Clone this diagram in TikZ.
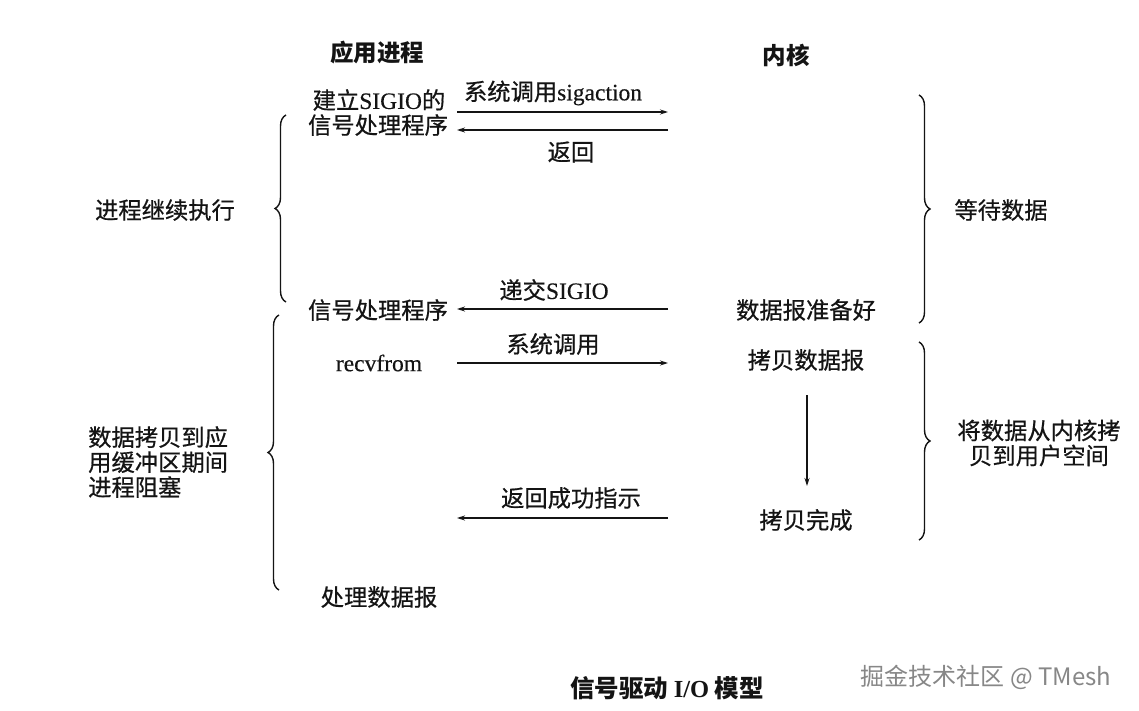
\documentclass[tikz,border=0pt]{standalone}
\usepackage{fontspec}
\setmainfont{Liberation Serif}
\newfontfamily\cjk[FakeBold=0.6]{Noto Sans CJK SC}
\newfontfamily\cjkw{Noto Sans CJK SC}
\newfontfamily\latf[FakeBold=0.4]{Liberation Serif}
\usetikzlibrary{arrows.meta,decorations.pathreplacing}
\definecolor{ink}{RGB}{20,20,20}
\definecolor{wmgray}{RGB}{135,135,135}
\begin{document}
\begin{tikzpicture}[x=1pt,y=-1pt,
  txt/.style={inner sep=0pt, text=ink, font=\fontsize{23.3}{25}\selectfont\cjk},
  ttl/.style={inner sep=0pt, text=ink, font=\fontsize{23.5}{26}\selectfont\cjkw\bfseries},
  msg/.style={draw=ink, line width=1.1pt, -{Stealth[length=8pt,width=5pt]}},
  brc/.style={draw=ink, line width=1.4pt, decorate, decoration={brace, amplitude=11pt, aspect=0.5}}]
\useasboundingbox (0,0) rectangle (1139,711);
\fill[white] (0,0) rectangle (1139,711);
\newcommand{\lt}[1]{{\latf\fontsize{23.5}{26}\selectfont #1}}

% headers
\node[ttl] (app) at (377,53) {应用进程};
\node[ttl] (kern) at (786,55) {内核};

% application side
\node[txt] (setup1) at (379,100) {建立\lt{SIGIO}的};
\node[txt] (setup2) at (378,125) {信号处理程序};
\node[txt] (handler) at (378,310) {信号处理程序};
\node[txt] (recv) at (379,363) {\lt{recvfrom}};
\node[txt] (proc) at (379,597) {处理数据报};

% kernel side
\node[txt] (ready) at (806,310) {数据报准备好};
\node[txt] (copy) at (806,360) {拷贝数据报};
\node[txt] (done) at (806,520) {拷贝完成};

% message labels
\node[txt] (l1) at (553,93) {系统调用\lt{sigaction}};
\node[txt] (l2) at (571,152) {返回};
\node[txt] (l3) at (554,290) {递交\lt{SIGIO}};
\node[txt] (l4) at (553,344) {系统调用};
\node[txt] (l5) at (571,498) {返回成功指示};

% arrow end points
\coordinate (a1s) at (457,112); \coordinate (a1e) at (668,112);
\coordinate (a2s) at (668,130); \coordinate (a2e) at (457,130);
\coordinate (a3s) at (668,309); \coordinate (a3e) at (457,309);
\coordinate (a4s) at (457,363); \coordinate (a4e) at (668,363);
\coordinate (a5s) at (668,518); \coordinate (a5e) at (457,518);
\coordinate (d1s) at (807,395); \coordinate (d1e) at (807,486);

\draw[msg] (a1s) -- (a1e);
\draw[msg] (a2s) -- (a2e);
\draw[msg] (a3s) -- (a3e);
\draw[msg] (a4s) -- (a4e);
\draw[msg] (a5s) -- (a5e);
\draw[msg] (d1s) -- (d1e);

% braces
\coordinate (lb1t) at (286,115); \coordinate (lb1b) at (286,302);
\coordinate (lb2t) at (279,315); \coordinate (lb2b) at (279,590);
\coordinate (rb1t) at (919,95);  \coordinate (rb1b) at (919,323);
\coordinate (rb2t) at (919,342); \coordinate (rb2b) at (919,540);
\draw[brc] (lb1b) -- (lb1t);
\draw[brc] (lb2b) -- (lb2t);
\draw[brc] (rb1t) -- (rb1b);
\draw[brc] (rb2t) -- (rb2b);

% brace labels
\node[txt] (cont) at (165,210) {进程继续执行};
\node[txt, align=left, anchor=west] (block) at (88,462) {数据拷贝到应\\用缓冲区期间\\进程阻塞};
\node[txt] (wait) at (1001,210) {等待数据};
\node[txt, align=center] (tocopy) at (1039,443) {将数据从内核拷\\贝到用户空间};

% caption and watermark
\node[ttl, font=\fontsize{24.5}{26}\selectfont\cjkw\bfseries] (cap) at (667,688) {信号驱动 {\fontspec{Liberation Serif}I/O} 模型};
\node[inner sep=0pt, text=wmgray, font=\fontsize{24}{26}\selectfont\cjkw] (wm) at (986,677) {掘金技术社区 @ TMesh};
\end{tikzpicture}
\end{document}
